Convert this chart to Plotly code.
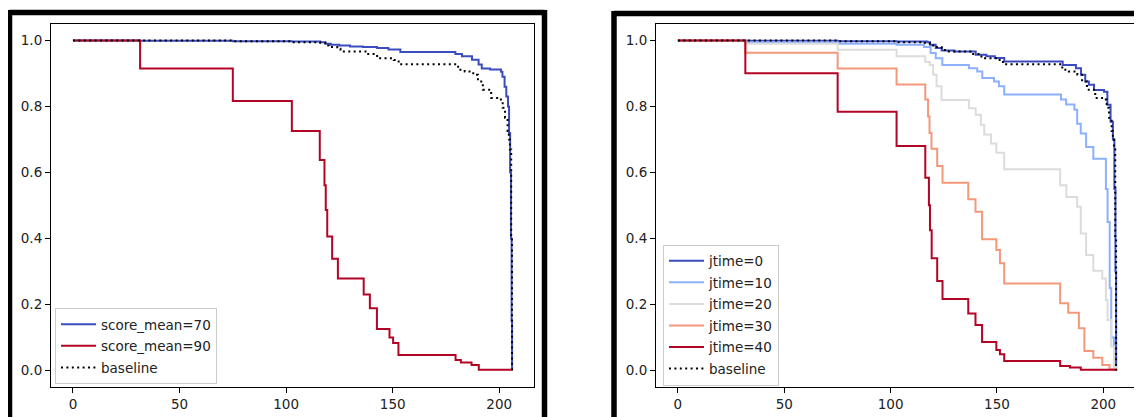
import plotly.graph_objects as go

W, H = 1142, 417
OFF = 8  # page body margin of the html page

# ---------------- data ----------------
# Left panel: score_mean
t_sm70 = [0, 31.5, 75, 102.7, 116, 118.4, 121, 125, 130, 136, 142.7, 148, 153.6, 179.4, 182.5,
          187.2, 190.3, 191.8, 195.7, 200.8, 201.5, 202.5, 203.3, 204.1, 204.6, 205.1, 205.5, 205.8, 206]
s_sm70 = [1.0, 0.999, 0.998, 0.997, 0.995, 0.990, 0.987, 0.985, 0.982, 0.980, 0.977, 0.973, 0.965, 0.959, 0.952,
          0.942, 0.927, 0.915, 0.912, 0.905, 0.89, 0.86, 0.83, 0.80, 0.72, 0.60, 0.40, 0.15, 0.0]

t_sm90 = [0, 31.5, 75, 102.7, 115.8, 118.0, 118.6, 119.3, 121.6, 124.3, 136.4, 139.3, 142.6, 148.5,
          150.2, 152.7, 179.5, 182, 187, 190.4, 206]
s_sm90 = [1.0, 0.915, 0.817, 0.726, 0.638, 0.561, 0.486, 0.406, 0.339, 0.279, 0.230, 0.189, 0.126, 0.100,
          0.083, 0.047, 0.032, 0.024, 0.017, 0.002, 0.0]

# Baseline (same in both panels)
t_base = [0, 75, 102.7, 116, 118.4, 120, 124, 125.5, 138, 142.7, 150.5, 152.8, 180.7, 183.8, 187.8,
          190, 192.3, 196.2, 200.1, 201.6, 202.7, 203.9, 204.5, 205.0, 205.6, 206]
s_base = [1.0, 0.998, 0.995, 0.993, 0.985, 0.980, 0.975, 0.967, 0.959, 0.946, 0.941, 0.928, 0.911, 0.906, 0.896,
          0.876, 0.851, 0.826, 0.821, 0.796, 0.766, 0.726, 0.70, 0.67, 0.40, 0.0]

# Right panel: jtime
t_j0 = [0, 31.7, 75.1, 102.8, 117.3, 118.5, 121.2, 124, 130, 140, 145, 149, 153.4, 180.9, 187.1,
        189.5, 191.5, 193.2, 195.6, 200.3, 201.9, 203.4, 204.5, 205.2, 205.7, 206]
s_j0 = [1.0, 0.999, 0.998, 0.997, 0.995, 0.987, 0.977, 0.970, 0.967, 0.957, 0.952, 0.947, 0.936, 0.926, 0.916,
        0.896, 0.876, 0.866, 0.850, 0.845, 0.805, 0.754, 0.70, 0.55, 0.30, 0.0]

t_j10 = [0, 31.7, 75.1, 102.8, 115.7, 118.8, 121.2, 124.3, 136.8, 140.7, 143.1, 148.6, 150.9, 153.4,
         180.1, 182.5, 186.4, 187.7, 189.4, 191.9, 195.3, 201.2, 202, 203, 203.7, 205, 206]
s_j10 = [1.0, 0.995, 0.990, 0.987, 0.980, 0.962, 0.946, 0.926, 0.916, 0.906, 0.886, 0.876, 0.861, 0.836,
         0.821, 0.806, 0.790, 0.748, 0.718, 0.677, 0.642, 0.55, 0.45, 0.25, 0.10, 0.01, 0.0]

t_j20 = [0, 31.7, 75.1, 102.8, 116.3, 118.4, 120, 121.6, 123.9, 136.8, 140, 142.4, 144, 147.2, 149.7,
         153.4, 179.7, 182.6, 187.7, 189.4, 191.9, 195.3, 199.5, 201.2, 202, 203.7, 205, 206]
s_j20 = [1.0, 0.990, 0.972, 0.952, 0.935, 0.926, 0.896, 0.861, 0.820, 0.795, 0.775, 0.745, 0.715, 0.688, 0.660,
         0.610, 0.561, 0.526, 0.496, 0.415, 0.350, 0.302, 0.279, 0.214, 0.153, 0.073, 0.01, 0.0]

t_j30 = [0, 31.7, 75.1, 102.8, 116.3, 117.6, 118.3, 119.2, 121.9, 124.4, 136.5, 139.9, 143, 149.7,
         151.4, 153.4, 179.7, 183.5, 188.5, 191.1, 195.3, 199.5, 202.9, 206]
s_j30 = [1.0, 0.963, 0.915, 0.867, 0.821, 0.770, 0.720, 0.672, 0.620, 0.569, 0.519, 0.481, 0.398, 0.365,
         0.325, 0.264, 0.204, 0.175, 0.128, 0.059, 0.039, 0.017, 0.004, 0.0]

t_j40 = [0, 31.7, 75.1, 102.8, 116.3, 118, 118.5, 119.3, 121.9, 124.4, 136.5, 139.9, 143, 149.7,
         151.4, 153.4, 179.7, 184.3, 189.4, 206]
s_j40 = [1.0, 0.901, 0.784, 0.680, 0.584, 0.501, 0.425, 0.340, 0.271, 0.217, 0.173, 0.138, 0.086, 0.0625,
         0.049, 0.029, 0.014, 0.009, 0.002, 0.0]

left_names = ["score_mean=70", "score_mean=90"]
right_names = ["jtime=0", "jtime=10", "jtime=20", "jtime=30", "jtime=40"]
x_ticks = [0, 50, 100, 150, 200]
y_ticks = [0.0, 0.2, 0.4, 0.6, 0.8, 1.0]

# ---------------- styling ----------------
C_BLUE, C_LBLUE, C_GRAY, C_SALMON, C_RED = "#3b4cc0", "#8db0fe", "#dddcdc", "#f4987a", "#b40426"
FONT = "DejaVu Sans"
FS = 13.5
LW = 2.0
DOT = "2px,3.4px"

def px(x):
    return (x - OFF) / W

def py(y):
    return 1 - (y - OFF) / H

fig = go.Figure()

def add_line(t, s, name, color, xa, ya, leg, dash=None, group=None):
    fig.add_trace(go.Scatter(
        x=t, y=s, mode="lines", name=name, line=dict(color=color, width=LW, shape="hv", dash=dash),
        xaxis=xa, yaxis=ya, legend=leg, legendgroup=group or name, showlegend=True, hoverinfo="skip"))

add_line(t_sm70, s_sm70, left_names[0], C_BLUE, "x", "y", "legend")
add_line(t_sm90, s_sm90, left_names[1], C_RED, "x", "y", "legend")
add_line(t_base, s_base, "baseline", "black", "x", "y", "legend", dash=DOT, group="bl1")

for t, s, n, c in zip([t_j0, t_j10, t_j20, t_j30, t_j40], [s_j0, s_j10, s_j20, s_j30, s_j40],
                      right_names, [C_BLUE, C_LBLUE, C_GRAY, C_SALMON, C_RED]):
    add_line(t, s, n, c, "x2", "y2", "legend2", group="r" + n)
add_line(t_base, s_base, "baseline", "black", "x2", "y2", "legend2", dash=DOT, group="bl2")

axis_common = dict(showline=True, mirror=True, linecolor="black", linewidth=1.1, ticks="outside",
                   ticklen=5, tickwidth=1.1, tickcolor="black", showgrid=False, zeroline=False,
                   tickfont=dict(family=FONT, size=FS, color="#222"), fixedrange=True)

xr = [-10.3, 216.3]
yr = [-0.05, 1.05]
ydom = [py(387), py(24)]

leg_common = dict(xanchor="left", yanchor="bottom", bgcolor="rgba(255,255,255,0.8)",
                  bordercolor="#cccccc", borderwidth=1, font=dict(family=FONT, size=FS, color="#222"),
                  tracegroupgap=1, itemwidth=35, itemclick=False)

fig.update_layout(
    width=W, height=H, margin=dict(l=0, r=0, t=0, b=0),
    paper_bgcolor="white", plot_bgcolor="white",
    xaxis=dict(domain=[px(51), px(534)], range=xr, tickvals=x_ticks, anchor="y", **axis_common),
    yaxis=dict(domain=ydom, range=yr, tickvals=y_ticks, tickformat=".1f", anchor="x", **axis_common),
    xaxis2=dict(domain=[px(656), px(1138)], range=xr, tickvals=x_ticks, anchor="y2", **axis_common),
    yaxis2=dict(domain=ydom, range=yr, tickvals=y_ticks, tickformat=".1f", anchor="x2", **axis_common),
    legend=dict(x=px(55), y=py(384), **leg_common),
    legend2=dict(x=px(663), y=py(385.5), **leg_common),
    showlegend=True,
)

# thick black panel frames
shapes = []
def frame_line(x0, y0, x1, y1):
    shapes.append(dict(type="line", xref="paper", yref="paper", x0=px(x0), y0=py(y0), x1=px(x1), y1=py(y1),
                       line=dict(color="black", width=5.5), layer="above"))
# left panel
frame_line(9.5, 12.5, 544.5, 12.5)
frame_line(9.5, 10, 9.5, 440)
frame_line(544.5, 10, 544.5, 440)
# right panel
frame_line(614, 13.5, 1160, 13.5)
frame_line(614, 11, 614, 440)
fig.update_layout(shapes=shapes)

fig.write_html("out.html")
